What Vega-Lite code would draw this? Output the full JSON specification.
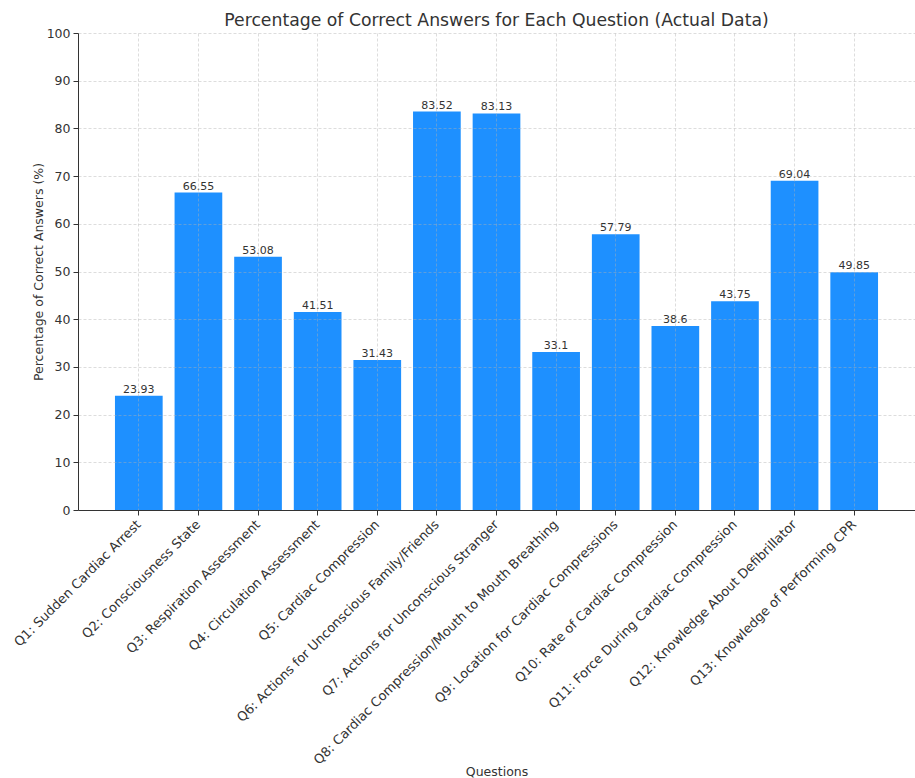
{
  "$schema": "https://vega.github.io/schema/vega-lite/v6.json",
  "width": 837,
  "height": 477,
  "autosize": {"type": "none"},
  "padding": {"left": 78, "top": 33, "right": 0, "bottom": 268},
  "background": "white",
  "config": {
    "font": "DejaVu Sans",
    "view": {"stroke": null},
    "axis": {
      "labelFont": "DejaVu Sans",
      "titleFont": "DejaVu Sans",
      "labelColor": "#333333",
      "titleColor": "#333333",
      "titleFontWeight": "normal",
      "domainColor": "#333333",
      "tickColor": "#333333",
      "gridColor": "#b0b0b0",
      "gridOpacity": 0.55,
      "gridDash": [3, 2],
      "gridWidth": 0.8
    }
  },
  "title": {
    "text": "Percentage of Correct Answers for Each Question (Actual Data)",
    "fontSize": 17.25,
    "fontWeight": "normal",
    "color": "#333333",
    "font": "DejaVu Sans",
    "anchor": "middle",
    "offset": -2
  },
  "data": {
    "values": [
      {"question": "Q1: Sudden Cardiac Arrest", "pct": 23.93},
      {"question": "Q2: Consciousness State", "pct": 66.55},
      {"question": "Q3: Respiration Assessment", "pct": 53.08},
      {"question": "Q4: Circulation Assessment", "pct": 41.51},
      {"question": "Q5: Cardiac Compression", "pct": 31.43},
      {"question": "Q6: Actions for Unconscious Family/Friends", "pct": 83.52},
      {"question": "Q7: Actions for Unconscious Stranger", "pct": 83.13},
      {"question": "Q8: Cardiac Compression/Mouth to Mouth Breathing", "pct": 33.1},
      {"question": "Q9: Location for Cardiac Compressions", "pct": 57.79},
      {"question": "Q10: Rate of Cardiac Compression", "pct": 38.6},
      {"question": "Q11: Force During Cardiac Compression", "pct": 43.75},
      {"question": "Q12: Knowledge About Defibrillator", "pct": 69.04},
      {"question": "Q13: Knowledge of Performing CPR", "pct": 49.85}
    ]
  },
  "encoding": {
    "x": {
      "field": "question",
      "type": "nominal",
      "sort": null,
      "scale": {"paddingInner": 0.2, "paddingOuter": 0.62},
      "axis": {
        "title": "Questions",
        "labelAngle": -45,
        "labelAlign": "right",
        "labelBaseline": "middle",
        "labelFontSize": 13,
        "labelPadding": 7,
        "labelLimit": 400,
        "tickSize": 5,
        "titleFontSize": 12.5,
        "titleY": 265,
        "titleBaseline": "alphabetic",
        "grid": true,
        "bandPosition": 0.5,
        "zindex": 1
      }
    },
    "y": {
      "field": "pct",
      "type": "quantitative",
      "scale": {"domain": [0, 100], "nice": false},
      "axis": {
        "title": "Percentage of Correct Answers (%)",
        "values": [0, 10, 20, 30, 40, 50, 60, 70, 80, 90, 100],
        "labelFontSize": 12.5,
        "labelPadding": 3,
        "tickSize": 5,
        "titleFontSize": 12.5,
        "titleX": -40,
        "titleBaseline": "middle",
        "grid": true,
        "zindex": 1
      }
    }
  },
  "layer": [
    {"mark": {"type": "bar", "color": "#1E90FF"}},
    {
      "mark": {"type": "text", "baseline": "bottom", "dy": -1, "fontSize": 11, "color": "#333333", "font": "DejaVu Sans"},
      "encoding": {"text": {"field": "pct", "type": "quantitative", "format": ""}}
    }
  ]
}
